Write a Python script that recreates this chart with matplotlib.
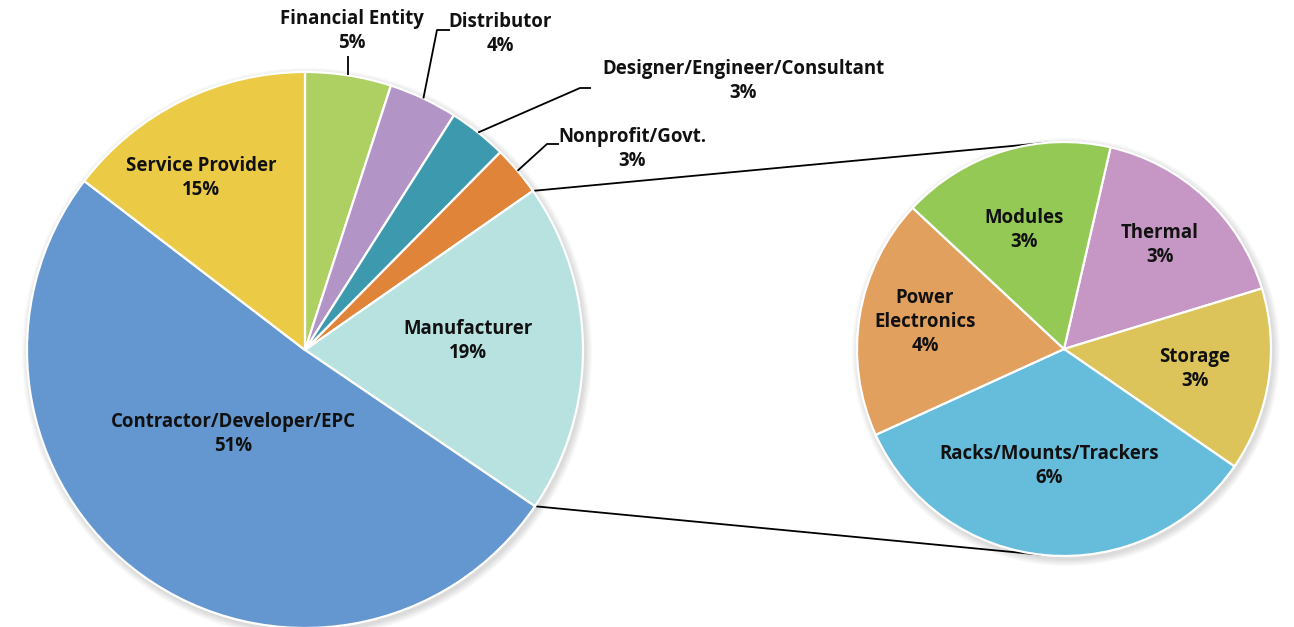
import numpy as np
import matplotlib
matplotlib.use("Agg")
import matplotlib.pyplot as plt

plt.rcParams['font.family'] = ['Open Sans', 'DejaVu Sans']

# ---- data ----
main_labels = ["Financial Entity", "Distributor", "Designer/Engineer/Consultant",
               "Nonprofit/Govt.", "Manufacturer", "Contractor/Developer/EPC",
               "Service Provider"]
main_values = [5.0, 4.0, 3.4, 2.9, 19.2, 50.9, 14.6]
main_colors = ["#AECF62", "#B394C6", "#3D9AAE", "#E0843A", "#B8E2E0",
               "#6497CF", "#EBCB45"]

sub_labels = ["Thermal", "Storage", "Racks/Mounts/Trackers",
              "Power\nElectronics", "Modules"]
sub_values = [3.2, 2.75, 6.45, 3.6, 3.2]
sub_colors = ["#C697C4", "#DCC45A", "#66BCDB", "#E2A05E", "#95C956"]

W, H = 1294, 627
fig = plt.figure(figsize=(W / 100, H / 100), dpi=100)
ax = fig.add_axes([0, 0, 1, 1])

def Y(y):
    return H - y

c1 = (305, Y(350)); r1 = 278
c2 = (1064, Y(349)); r2 = 207

# soft shadows
for k in range(6):
    for (c, r) in [(c1, r1), (c2, r2)]:
        ax.add_patch(plt.Circle((c[0] + 2, c[1] - 3), r + 1 + k * 1.2,
                                color="#000000", alpha=0.025, lw=0, zorder=0))

w1, _ = ax.pie(main_values, colors=main_colors, startangle=90, counterclock=False,
               center=c1, radius=r1,
               wedgeprops=dict(edgecolor="white", linewidth=1.6))
w2, _ = ax.pie(sub_values, colors=sub_colors, startangle=77, counterclock=False,
               center=c2, radius=r2,
               wedgeprops=dict(edgecolor="white", linewidth=1.6))
for w in w1 + w2:
    w.set_zorder(2)

fs = 13.4
tk = dict(fontsize=fs, fontweight="bold", ha="center", va="center",
          color="#111111", linespacing=1.25, zorder=5)

def pct(v):
    return f"{int(round(v))}%"

# label positions (image px)
main_pos = [(352, 31), (500, 34), (743, 81), (632, 149), (468, 341),
            (233, 434), (201, 178)]
for lab, v, (x, y) in zip(main_labels, main_values, main_pos):
    ax.text(x, Y(y), f"{lab}\n{pct(v)}", **tk)

sub_pos = [(1160, 245), (1195, 369), (1049, 466), (925, 322), (1024, 230)]
for lab, v, (x, y) in zip(sub_labels, sub_values, sub_pos):
    ax.text(x, Y(y), f"{lab}\n{pct(v)}", **tk)

def edge(c, r, ang):
    a = np.deg2rad(ang)
    return c[0] + r * np.cos(a), c[1] + r * np.sin(a)

def mid(w):
    return 0.5 * (w.theta1 + w.theta2)

lk = dict(color="black", lw=1.3, zorder=4, solid_capstyle="butt")
# leader lines
x0, y0 = edge(c1, r1, mid(w1[0]))
ax.plot([x0, x0], [y0, Y(56)], **lk)
x0, y0 = edge(c1, r1, mid(w1[1]))
ax.plot([x0, 437, 450], [y0, Y(30), Y(30)], **lk)
x0, y0 = edge(c1, r1, mid(w1[2]))
ax.plot([x0, 580, 591], [y0, Y(88), Y(88)], **lk)
x0, y0 = edge(c1, r1, mid(w1[3]))
ax.plot([x0, 547, 559], [y0, Y(144), Y(144)], **lk)

# connector lines between pies
man = w1[4]
xa, ya = edge(c1, r1, man.theta2)
xb, yb = edge(c1, r1, man.theta1)
xt, yt = edge(c2, r2, 95)
xbt, ybt = edge(c2, r2, -95)
ax.plot([xa, xt], [ya, yt], color="black", lw=1.3, zorder=1)
ax.plot([xb, xbt], [yb, ybt], color="black", lw=1.3, zorder=1)

ax.set_xlim(0, W)
ax.set_ylim(0, H)
ax.set_aspect("equal")
ax.axis("off")
fig.savefig("out.png", dpi=100)
